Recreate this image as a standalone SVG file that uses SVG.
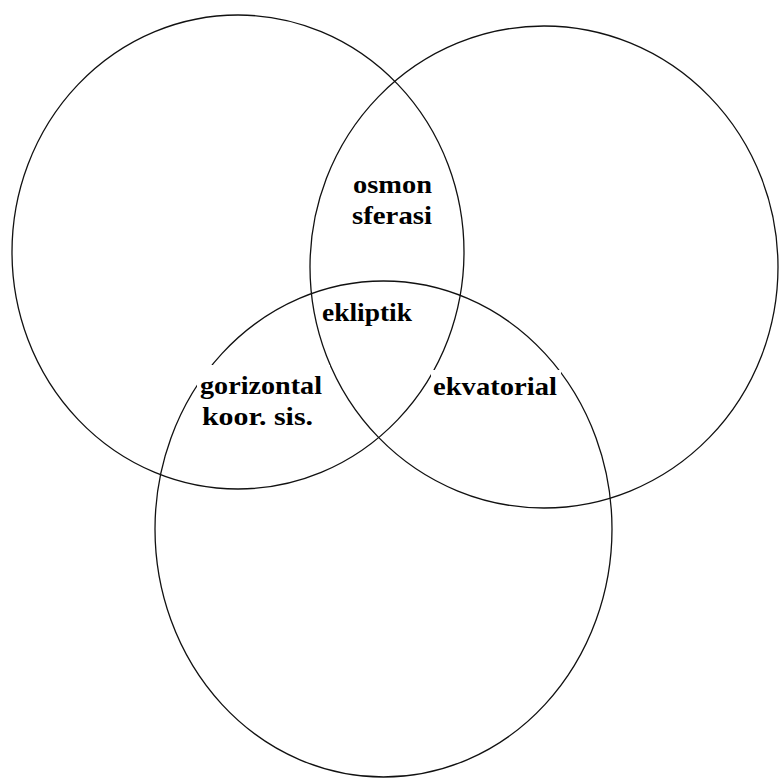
<svg xmlns="http://www.w3.org/2000/svg" width="779" height="778" viewBox="0 0 779 778">
<style>
.c{fill:none;stroke:#111;stroke-width:1.3}
.t{font-family:"Liberation Serif","Times New Roman",serif;font-weight:bold;font-size:25px;fill:#000}
.bg{fill:#fff;stroke:none}
</style>
<rect width="779" height="778" fill="#fff"/>
<g id="circle-left"><ellipse class="c" cx="238" cy="252" rx="226" ry="237"/></g>
<g id="circle-right"><ellipse class="c" cx="544" cy="267" rx="234" ry="241"/></g>
<g id="circle-bottom"><ellipse class="c" cx="383.5" cy="529" rx="228.5" ry="248"/></g>
<g id="connectors"></g>
<g id="label-osmon">
<text class="t" x="353" y="193" textLength="79" lengthAdjust="spacingAndGlyphs">osmon</text>
<text class="t" x="352" y="224" textLength="80" lengthAdjust="spacingAndGlyphs">sferasi</text>
</g>
<g id="label-ekliptik">
<text class="t" x="322" y="321" textLength="90" lengthAdjust="spacingAndGlyphs">ekliptik</text>
</g>
<g id="label-gorizontal">
<rect class="bg" x="197" y="365" width="133" height="68"/>
<text class="t" x="200" y="394" textLength="122" lengthAdjust="spacingAndGlyphs">gorizontal</text>
<text class="t" x="202" y="425" textLength="111" lengthAdjust="spacingAndGlyphs">koor. sis.</text>
</g>
<g id="label-ekvatorial">
<rect class="bg" x="431" y="370" width="130" height="32"/>
<text class="t" x="433" y="395" textLength="124" lengthAdjust="spacingAndGlyphs">ekvatorial</text>
</g>
</svg>
